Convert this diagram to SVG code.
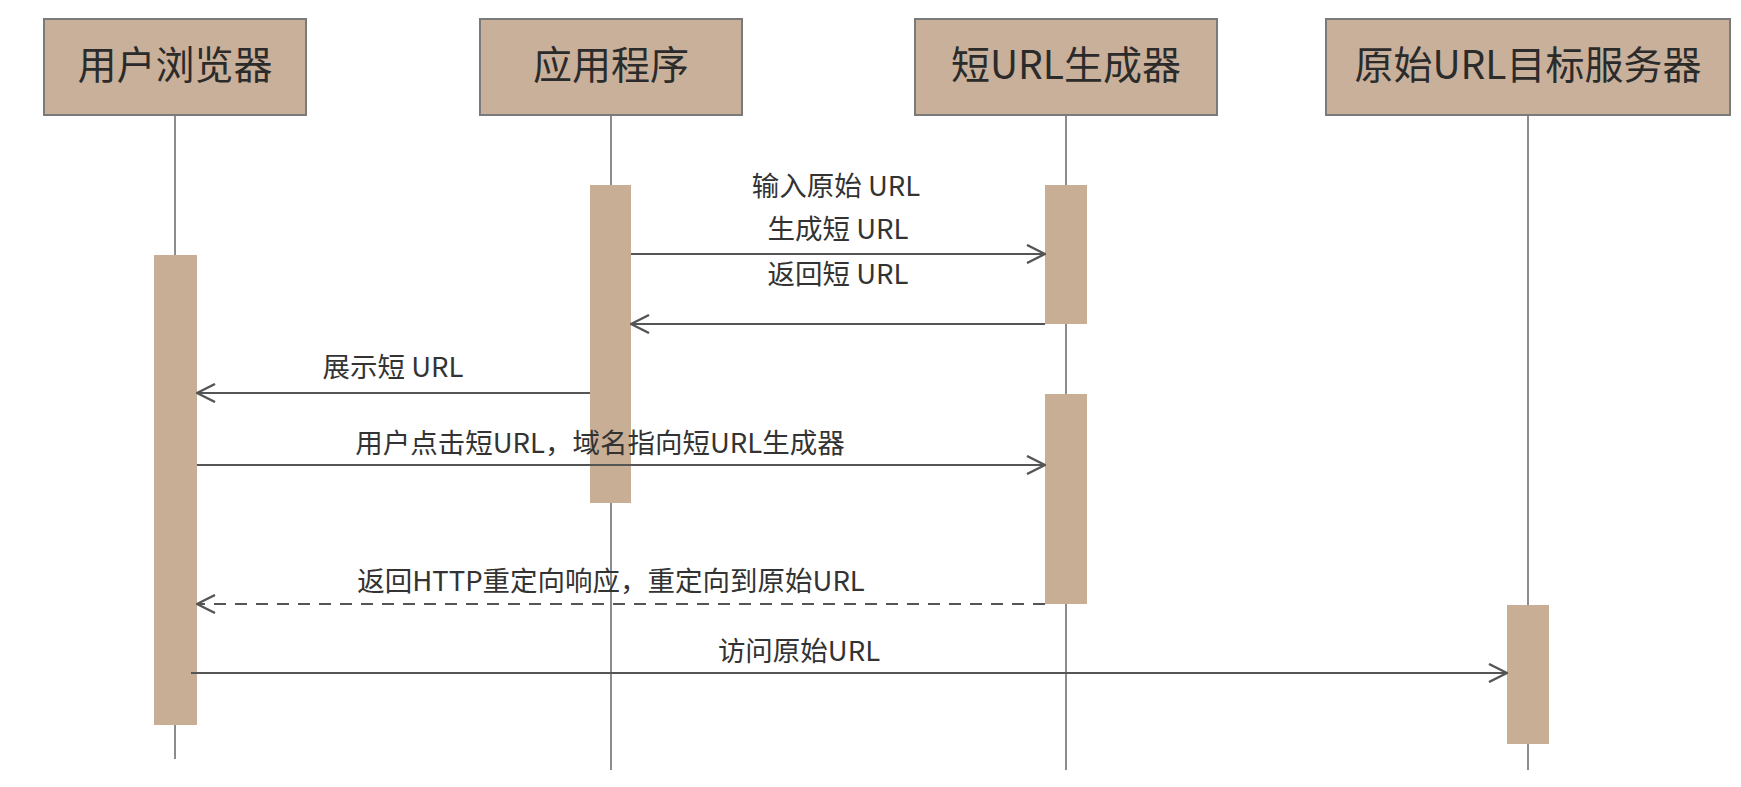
<svg xmlns="http://www.w3.org/2000/svg" width="1741" height="787" viewBox="0 0 1741 787">
<style>
.hdr{fill:#c9b09a;stroke:#7a7a7a;stroke-width:2}
.hdrt{font-family:"Noto Sans CJK SC","Noto Sans",sans-serif;font-size:39px;fill:#2b2b2b;text-anchor:middle}
.life{stroke:#666;stroke-width:1.5;fill:none}
.act{fill:#c8ae95}
.msg{stroke:#555;stroke-width:2.2;fill:none}
.dash{stroke-dasharray:12 9}
.lbl{font-family:"Noto Sans CJK SC","Noto Sans",sans-serif;font-size:27.5px;fill:#333;text-anchor:middle}
</style>
<defs>
<marker id="arr" viewBox="0 0 20 20" refX="19" refY="10" markerWidth="20" markerHeight="20" markerUnits="userSpaceOnUse" orient="auto">
<path d="M1,1 L19,10 L1,19" fill="none" stroke="#555" stroke-width="2.4"/>
</marker>
</defs>
<rect width="1741" height="787" fill="#fff"/>
<g id="lifelines">
<line class="life" x1="175" y1="115" x2="175" y2="759"/>
<line class="life" x1="611" y1="115" x2="611" y2="770"/>
<line class="life" x1="1066" y1="115" x2="1066" y2="770"/>
<line class="life" x1="1528" y1="115" x2="1528" y2="770"/>
</g>
<g id="node-browser">
<rect class="hdr" x="44" y="19" width="262" height="96"/>
<text class="hdrt" x="175" y="79">用户浏览器</text>
</g>
<g id="node-app">
<rect class="hdr" x="480" y="19" width="262" height="96"/>
<text class="hdrt" x="611" y="79">应用程序</text>
</g>
<g id="node-shortener">
<rect class="hdr" x="915" y="19" width="302" height="96"/>
<text class="hdrt" x="1066" y="79">短URL生成器</text>
</g>
<g id="node-target">
<rect class="hdr" x="1326" y="19" width="404" height="96"/>
<text class="hdrt" x="1528" y="79">原始URL目标服务器</text>
</g>
<g id="activations">
<rect class="act" x="154" y="255" width="43" height="470"/>
<rect class="act" x="590" y="185" width="41" height="318"/>
<rect class="act" x="1045" y="185" width="42" height="139"/>
<rect class="act" x="1045" y="394" width="42" height="210"/>
<rect class="act" x="1507" y="605" width="42" height="139"/>
</g>
<g id="connectors">
<line class="msg" x1="631" y1="254" x2="1045" y2="254" marker-end="url(#arr)"/>
<line class="msg" x1="1045" y1="324" x2="631" y2="324" marker-end="url(#arr)"/>
<line class="msg" x1="590" y1="393" x2="197" y2="393" marker-end="url(#arr)"/>
<line class="msg" x1="197" y1="465" x2="1045" y2="465" marker-end="url(#arr)"/>
<line class="msg dash" x1="1045" y1="604" x2="197" y2="604" marker-end="url(#arr)"/>
<line class="msg" x1="191" y1="673" x2="1507" y2="673" marker-end="url(#arr)"/>
</g>
<g id="labels">
<text class="lbl" x="836" y="196">输入原始 URL</text>
<text class="lbl" x="838" y="239">生成短 URL</text>
<text class="lbl" x="838" y="284">返回短 URL</text>
<text class="lbl" x="393" y="377">展示短 URL</text>
<text class="lbl" x="600" y="453">用户点击短URL，域名指向短URL生成器</text>
<text class="lbl" x="611" y="591">返回HTTP重定向响应，重定向到原始URL</text>
<text class="lbl" x="799" y="661">访问原始URL</text>
</g>
</svg>
